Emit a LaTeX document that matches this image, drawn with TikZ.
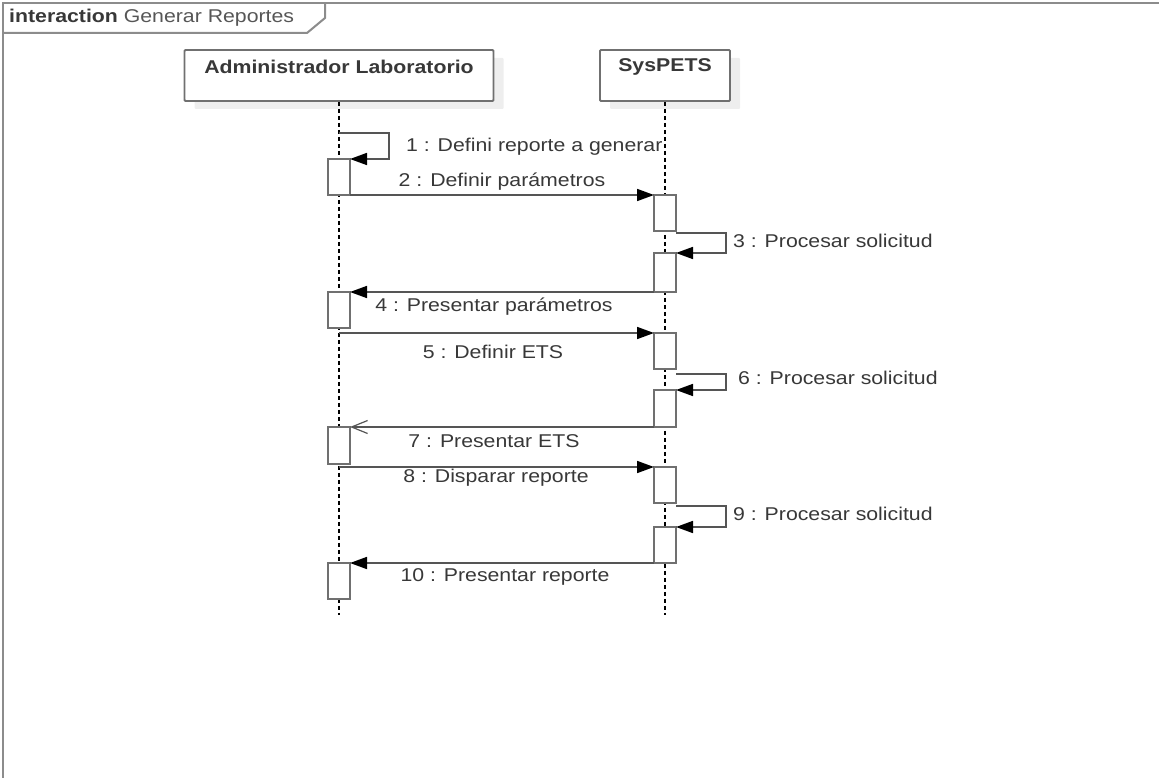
\documentclass[tikz,border=0pt]{standalone}
\usepackage{fontspec}
\setmainfont{Liberation Sans}[FakeStretch=1.15]
\usetikzlibrary{arrows.meta,shadows}
\definecolor{framec}{HTML}{8C8C8C}
\definecolor{boxc}{HTML}{707070}
\definecolor{msgc}{HTML}{555555}
\definecolor{txtc}{HTML}{383838}
\definecolor{shadc}{HTML}{EEEEEE}
\tikzset{
  hdr/.style={draw=boxc, line width=1.8pt, fill=white, rounded corners=1pt, inner sep=0pt,
    minimum height=51pt, drop shadow={shadow xshift=10pt, shadow yshift=-8pt, fill=shadc, opacity=1}},
  htext/.style={font=\fontsize{18.5}{22}\selectfont\bfseries, text=txtc, inner sep=0pt},
  life/.style={black, line width=1.3pt, dash pattern=on 4pt off 3pt},
  act/.style={draw=boxc, line width=1.8pt, fill=white, inner sep=0pt, outer sep=0pt, minimum width=22pt, minimum height=36pt},
  msg/.style={draw=msgc, line width=1.7pt, -{Triangle[length=17pt,width=12pt,color=black]}},
  rmsg/.style={draw=msgc, line width=1.7pt, -{Straight Barb[length=16pt,width=13pt,line width=1.2pt]}},
  lbl/.style={text=txtc, inner sep=0pt}
}
\begin{document}
\begin{tikzpicture}[x=1pt,y=-1pt,font=\fontsize{18.5}{22}\selectfont]
\useasboundingbox (0,0) rectangle (1159,778);
% frame
\draw[framec, line width=2.5pt] (3,800) -- (3,3) -- (1180,3);
\draw[framec, line width=2pt] (3,33) -- (307,33) -- (325,18) -- (325,3);
\node[anchor=west, inner sep=0pt, text=txtc] (title) at (9,18) {\textbf{interaction} \textcolor{txtc!85}{Generar Reportes}};
% headers
\node[hdr, minimum width=309pt] (hA) at (339,75.5) {};
\node[hdr, minimum width=130pt] (hS) at (665,75.5) {};
\node[htext] (tA) at (339,67) {Administrador Laboratorio};
\node[htext] (tS) at (665,67) {SysPETS};
% lifelines
\coordinate (endA) at (339,615);
\coordinate (endS) at (665,615);
\draw[life] (hA.south) -- (endA);
\draw[life] (hS.south) -- (endS);
% activations
\node[act] (a1) at (339,177) {};
\node[act] (a2) at (339,310) {};
\node[act, minimum height=37pt] (a3) at (339,445.5) {};
\node[act] (a4) at (339,581) {};
\node[act] (s1) at (665,213) {};
\node[act, minimum height=39pt] (s2) at (665,272.5) {};
\node[act] (s3) at (665,351) {};
\node[act, minimum height=37pt] (s4) at (665,408.5) {};
\node[act] (s5) at (665,485) {};
\node[act] (s6) at (665,545) {};
% message 1 (self)
\coordinate (m1s) at (339,133);
\draw[msg] (m1s) -- ++(50,0) |- (a1.north east);
\node[lbl, anchor=west] (l1) at (406,147) {1 : Defini reporte a generar};
% message 2
\draw[msg] (a1.south east) -- (a1.south east -| s1.west);
\node[lbl] (l2) at (502,182) {2 : Definir parámetros};
% message 3 (self)
\draw[msg] ([yshift=-2pt]s1.south east) -- ++(50,0) |- (s2.north east);
\node[lbl, anchor=west] (l3) at (733,241) {3 : Procesar solicitud};
% message 4
\draw[msg] (s2.south west) -- (s2.south west -| a2.east);
\node[lbl] (l4) at (494,307) {4 : Presentar parámetros};
% message 5
\coordinate (m5s) at (339,333);
\draw[msg] (m5s) -- (m5s -| s3.west);
\node[lbl] (l5) at (493,352) {5 : Definir ETS};
% message 6 (self)
\draw[msg] ([yshift=-5pt]s3.south east) -- ++(50,0) |- (s4.north east);
\node[lbl, anchor=west] (l6) at (738,378) {6 : Procesar solicitud};
% message 7
\draw[rmsg] (s4.south west) -- (s4.south west -| a3.east);
\node[lbl] (l7) at (494,441) {7 : Presentar ETS};
% message 8
\coordinate (m8s) at (339,467);
\draw[msg] (m8s) -- (m8s -| s5.west);
\node[lbl] (l8) at (496,478) {8 : Disparar reporte};
% message 9 (self)
\draw[msg] ([yshift=-3pt]s5.south east) -- ++(50,0) |- (s6.north east);
\node[lbl, anchor=west] (l9) at (733,514) {9 : Procesar solicitud};
% message 10
\draw[msg] (s6.south west) -- (s6.south west -| a4.east);
\node[lbl] (l10) at (505,577) {10 : Presentar reporte};
\end{tikzpicture}
\end{document}
